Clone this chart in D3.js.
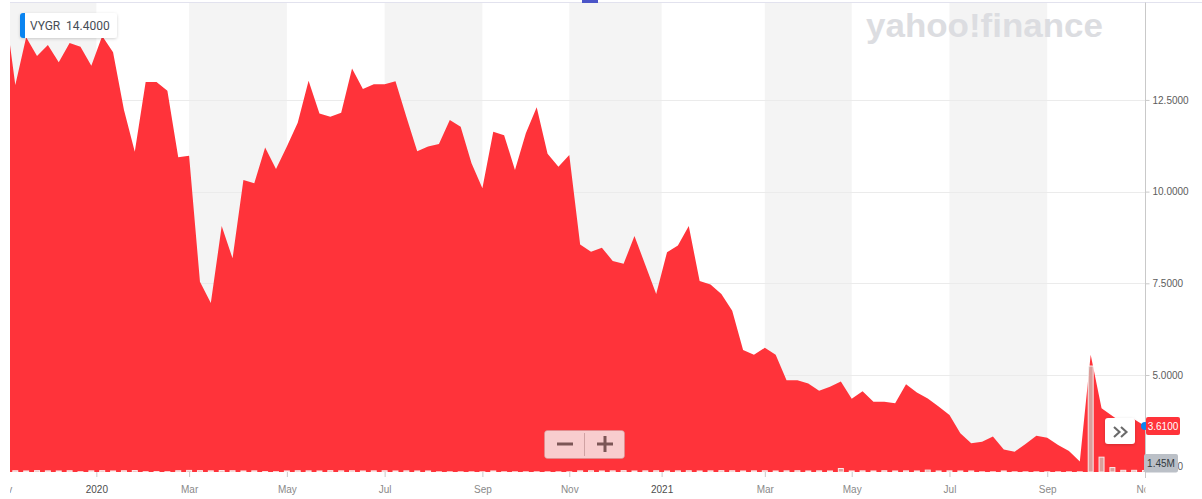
<!DOCTYPE html>
<html>
<head>
<meta charset="utf-8">
<script src="https://cdn.jsdelivr.net/npm/d3@7"></script>
<style>
  html, body { margin: 0; padding: 0; background: #ffffff; }
  svg { display: block; }
</style>
</head>
<body>
<svg id="chart" width="1202" height="499"></svg>
<script>
// ---------------- DATA ----------------
const symbol = "VYGR";
const labelPrice = 14.4;

// weekly closing prices (first value is the partially visible week at the left edge)
const prices = [
  15.14, 12.91, 14.21, 13.70, 14.00, 13.53, 14.05, 13.95, 13.43, 14.24,
  13.80, 12.23, 11.09, 12.99, 12.99, 12.75, 10.94, 10.98, 7.54, 6.96,
  9.06, 8.18, 10.32, 10.23, 11.20, 10.62, 11.23, 11.88, 13.02, 12.13,
  12.04, 12.15, 13.36, 12.80, 12.93, 12.93, 13.01, 12.04, 11.10, 11.23,
  11.30, 11.95, 11.77, 10.77, 10.09, 11.63, 11.54, 10.59, 11.59, 12.30,
  11.03, 10.68, 11.00, 8.56, 8.36, 8.47, 8.11, 8.03, 8.79, 8.00,
  7.21, 8.35, 8.53, 9.06, 7.56, 7.47, 7.21, 6.75, 5.68, 5.55,
  5.74, 5.55, 4.86, 4.86, 4.77, 4.57, 4.68, 4.82, 4.35, 4.56,
  4.27, 4.27, 4.23, 4.75, 4.52, 4.36, 4.14, 3.91, 3.41, 3.14,
  3.18, 3.32, 2.97, 2.91, 3.12, 3.34, 3.29, 3.09, 2.93, 2.64,
  5.55, 4.09, 3.88, 3.68, 3.79, 3.61
];

// weekly volume, millions of shares
const volumes = [
  1.2, 1.2, 1.0, 1.3, 1.1, 1.0, 1.2, 0.3, 1.1, 1.3,
  1.0, 1.2, 1.4, 0.3, 0.4, 0.3, 1.2, 1.5, 1.3, 1.1,
  1.4, 1.2, 1.0, 1.1, 0.4, 0.3, 1.0, 1.2, 1.1, 1.0,
  1.3, 1.1, 1.2, 1.0, 1.1, 1.2, 1.0, 1.1, 1.0, 1.0,
  0.2, 0.2, 0.2, 0.2, 0.2, 1.0, 0.2, 0.2, 0.2, 0.2,
  0.2, 0.2, 0.2, 1.1, 1.2, 1.0, 1.1, 1.3, 1.0, 1.1,
  1.2, 1.0, 1.1, 1.2, 1.0, 1.1, 1.3, 1.2, 1.0, 1.1,
  1.2, 1.0, 1.1, 1.2, 1.0, 1.1, 1.0, 3.3, 1.0, 1.1,
  1.0, 1.2, 1.0, 1.1, 1.0, 1.8, 1.0, 1.1, 1.0, 1.0,
  0.2, 0.2, 1.0, 0.2, 0.2, 0.2, 0.2, 0.2, 0.2, 0.2,
  100, 14, 4.2, 1.6, 1.6, 1.45
];

// x-axis ticks, expressed in week index (same index as the arrays above)
const tickLabels = ["Nov", "2020", "Mar", "May", "Jul", "Sep", "Nov", "2021", "Mar", "May", "Jul", "Sep", "Nov"];
const tickWeeks  = [-0.15, 8.46, 17, 26, 35, 44, 52, 60.5, 70, 78, 87, 96, 105];
const yTicks = [2.5, 5, 7.5, 10, 12.5];
// shaded month bands between tick pairs (indices into tickWeeks)
const shadedBands = [[0, 1], [2, 3], [4, 5], [6, 7], [8, 9], [10, 11]];

// ---------------- CHART ----------------
const svg = d3.select("#chart");
const L = 10, R = 1145, T = 2.5, B = 472;
const FONT = "'Helvetica Neue', Helvetica, Arial, 'Liberation Sans', sans-serif";
const RED = "#ff333a";

const x = d3.scaleLinear().domain([0.512, 105]).range([L, R]);
const y = d3.scaleLinear().domain([2.355, 15.17]).range([B, 2]);
const vy = d3.scaleLinear().domain([0, 100]).range([B, 366]);

const defs = svg.append("defs");
defs.append("clipPath").attr("id", "plotClip")
  .append("rect").attr("x", L).attr("y", T).attr("width", R - L).attr("height", B - T);
defs.append("clipPath").attr("id", "xClip")
  .append("rect").attr("x", L).attr("y", B).attr("width", R - L + 0.5).attr("height", 30);
const sh = defs.append("filter").attr("id", "shadow").attr("x", "-20%").attr("y", "-30%").attr("width", "140%").attr("height", "160%");
sh.append("feDropShadow").attr("dx", 0).attr("dy", 1).attr("stdDeviation", 1.5)
  .attr("flood-color", "#000").attr("flood-opacity", 0.18);

// top border + marker
svg.append("line").attr("x1", L).attr("x2", 1202).attr("y1", 2.5).attr("y2", 2.5)
  .attr("stroke", "#e2e2ee").attr("stroke-width", 1);
svg.append("rect").attr("x", 582).attr("y", 0).attr("width", 16).attr("height", 3).attr("fill", "#4b55c8");

const plot = svg.append("g").attr("clip-path", "url(#plotClip)");

// month bands
plot.selectAll("rect.band").data(shadedBands).join("rect")
  .attr("class", "band")
  .attr("x", d => x(tickWeeks[d[0]]))
  .attr("width", d => x(tickWeeks[d[1]]) - x(tickWeeks[d[0]]))
  .attr("y", 3).attr("height", B - 3)
  .attr("fill", "#f4f4f4");

// gridlines
plot.selectAll("line.grid").data(yTicks).join("line")
  .attr("class", "grid")
  .attr("x1", L).attr("x2", R)
  .attr("y1", d => Math.round(y(d)) + 0.5).attr("y2", d => Math.round(y(d)) + 0.5)
  .attr("stroke", "#ebebeb").attr("stroke-width", 1);

// watermark
svg.append("text")
  .attr("x", 866).attr("y", 37)
  .attr("font-family", "'Liberation Sans', Arial, sans-serif")
  .attr("font-weight", "bold").attr("font-size", 33)
  .attr("textLength", 237).attr("lengthAdjust", "spacingAndGlyphs")
  .attr("fill", "#dcdde1")
  .text("yahoo!finance");

// price area
const area = d3.area()
  .x((d, i) => x(i))
  .y0(B)
  .y1(d => y(d));
plot.append("path").datum(prices).attr("d", area).attr("fill", RED);

// volume bars
plot.selectAll("rect.vol").data(volumes).join("rect")
  .attr("class", "vol")
  .attr("x", (d, i) => x(i) - 2.5)
  .attr("width", 5)
  .attr("y", d => vy(d))
  .attr("height", d => B - vy(d))
  .attr("fill", "rgba(205,200,192,0.72)")
  .attr("stroke", "rgba(255,255,255,0.85)")
  .attr("stroke-width", 1);

// y axis
svg.append("line").attr("x1", R + 0.5).attr("x2", R + 0.5).attr("y1", 2.5).attr("y2", 478)
  .attr("stroke", "#c9c9c9");
const yAxis = svg.append("g").attr("transform", `translate(${R + 0.5},0)`)
  .call(d3.axisRight(y).tickValues(yTicks).tickSize(4).tickPadding(3).tickFormat(d3.format(".4f")));
yAxis.select(".domain").remove();
yAxis.selectAll("line").attr("stroke", "#c9c9c9");
yAxis.selectAll("text").attr("font-family", FONT).attr("font-size", 10).attr("fill", "#5c5c5c");

// x axis (labels clipped to the plot width)
const xWrap = svg.append("g").attr("clip-path", "url(#xClip)");
const xAxis = xWrap.append("g").attr("transform", `translate(0,${B})`);
xAxis.call(d3.axisBottom(x).tickValues(tickWeeks).tickSize(5).tickPadding(8.5)
  .tickFormat((d, i) => tickLabels[i]));
xAxis.select(".domain").remove();
xAxis.selectAll("line").attr("stroke", "#c9c9c9");
xAxis.selectAll("text").attr("font-family", FONT).attr("font-size", 10)
  .attr("fill", (d, i) => /^\d{4}$/.test(tickLabels[i]) ? "#4d4d4d" : "#8a8a8a");

// last price marker
const last = prices.length - 1;
const py = y(prices[last]);
svg.append("circle").attr("cx", R).attr("cy", py).attr("r", 4).attr("fill", "#0a84f0");
svg.append("rect").attr("x", R + 1).attr("y", py - 9).attr("width", 34).attr("height", 18).attr("rx", 2)
  .attr("fill", RED);
svg.append("text").attr("x", R + 18).attr("y", py + 3.6).attr("text-anchor", "middle")
  .attr("font-family", FONT).attr("font-size", 10).attr("fill", "#ffffff")
  .text(d3.format(".4f")(prices[last]));

// last volume marker
svg.append("rect").attr("x", 1144).attr("y", 454).attr("width", 34).attr("height", 18.5).attr("rx", 2)
  .attr("fill", "#bbc0c7");
svg.append("text").attr("x", 1161).attr("y", 467).attr("text-anchor", "middle")
  .attr("font-family", FONT).attr("font-size", 10).attr("fill", "#333a40")
  .text(volumes[last] + "M");

// >> button
svg.append("rect").attr("x", 1105).attr("y", 418).attr("width", 30).attr("height", 26).attr("rx", 3)
  .attr("fill", "#ffffff").attr("filter", "url(#shadow)");
svg.append("path").attr("d", "M1114,427 L1119.5,432 L1114,437 M1121,427 L1126.5,432 L1121,437")
  .attr("fill", "none").attr("stroke", "#6a6a6a").attr("stroke-width", 2.1);

// zoom controls
svg.append("rect").attr("x", 544.5).attr("y", 430.5).attr("width", 80).attr("height", 28).attr("rx", 3)
  .attr("fill", "rgba(246,244,244,0.8)").attr("stroke", "rgba(200,150,150,0.5)");
svg.append("line").attr("x1", 584.5).attr("x2", 584.5).attr("y1", 433).attr("y2", 456)
  .attr("stroke", "rgba(160,110,110,0.45)");
svg.append("rect").attr("x", 557).attr("y", 442.5).attr("width", 16).attr("height", 3).attr("fill", "#7c5656");
svg.append("rect").attr("x", 597).attr("y", 442.5).attr("width", 16).attr("height", 3).attr("fill", "#7c5656");
svg.append("rect").attr("x", 603.5).attr("y", 436).attr("width", 3).attr("height", 16).attr("fill", "#7c5656");

// symbol label
const lab = svg.append("g");
lab.append("rect").attr("x", 20).attr("y", 13).attr("width", 97).attr("height", 25).attr("rx", 3)
  .attr("fill", "#ffffff").attr("filter", "url(#shadow)");
lab.append("path").attr("d", "M23,13 L25,13 L25,38 L23,38 Q20,38 20,35 L20,16 Q20,13 23,13 Z").attr("fill", "#0a84f0");
lab.append("text").attr("x", 30).attr("y", 30).attr("font-family", "Roboto, Arial, sans-serif")
  .attr("font-size", 12).attr("fill", "#464e56").text(symbol);
lab.append("text").attr("x", 66).attr("y", 30).attr("font-family", "Roboto, Arial, sans-serif")
  .attr("font-size", 12).attr("fill", "#464e56").text(d3.format(".4f")(labelPrice));
</script>
</body>
</html>
